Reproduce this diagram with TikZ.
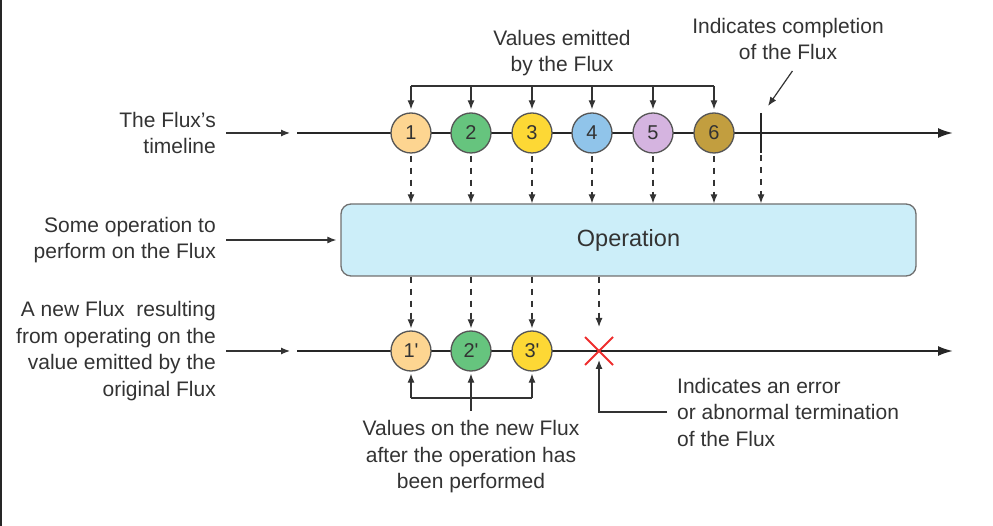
\documentclass[tikz,border=0pt]{standalone}
\usepackage{fontspec}
\setmainfont{Liberation Sans}
\usetikzlibrary{arrows.meta,positioning}

\definecolor{ink}{HTML}{333333}
\definecolor{rim}{HTML}{555555}
\definecolor{opfill}{HTML}{CCEEF9}
\definecolor{oprim}{HTML}{707070}
\definecolor{errred}{HTML}{EE2E2E}
\definecolor{val1}{HTML}{FDD591}
\definecolor{val2}{HTML}{66C47E}
\definecolor{val3}{HTML}{FDD835}
\definecolor{val4}{HTML}{90C4EA}
\definecolor{val5}{HTML}{D5B4E0}
\definecolor{val6}{HTML}{C29E3F}

\tikzstyle {ball} = [circle, draw=rim, line width=1.3pt, minimum size=40pt, inner sep=0pt, text=ink, font=\fontsize{20}{20}\selectfont]
\tikzstyle {note} = [text=ink, inner sep=0pt, font=\fontsize{21}{26.5}\selectfont]
\tikzstyle {timeline} = [draw=black!85, line width=2pt, -{Latex[length=15pt,width=10pt]}]
\tikzstyle {feed} = [draw=black!80, line width=1.2pt, -{Latex[length=9pt,width=7pt]}]
\tikzstyle {dashfeed} = [feed, dash pattern=on 6pt off 6pt]

\begin{document}
\begin{tikzpicture}[x=1pt, y=-1pt]
            \useasboundingbox (0,0) rectangle (993,526);
            \fill [black!85] (0,0) rectangle (2,526);

            % timelines
            \coordinate (t1) at (297,133);
            \coordinate (t1end) at (953,133);
            \coordinate (t2) at (297,351);
            \coordinate (t2end) at (953,351);
            \draw [timeline] (t1) -- (t1end);
            \draw [timeline] (t2) -- (t2end);

            % values emitted by the Flux
            \node [ball, fill=val1] (v1) at (411,133) {1};
            \node [ball, fill=val2] (v2) at (471,133) {2};
            \node [ball, fill=val3] (v3) at (532,133) {3};
            \node [ball, fill=val4] (v4) at (592,133) {4};
            \node [ball, fill=val5] (v5) at (653,133) {5};
            \node [ball, fill=val6] (v6) at (714,133) {6};
            \coordinate (done) at (761,133);
            \draw [black!85, line width=2.2pt] ([yshift=20pt]done) -- ([yshift=-20pt]done);

            \node [draw=oprim, line width=1.3pt, fill=opfill, rounded corners=10pt,
                   minimum width=575pt, minimum height=72pt, text=ink,
                   font=\fontsize{23.5}{23.5}\selectfont] (op) at (628.5,240) {Operation};

            % the new Flux
            \node [ball, fill=val1] (w1) at (411,351) {1\textquotesingle};
            \node [ball, fill=val2] (w2) at (471,351) {2\textquotesingle};
            \node [ball, fill=val3] (w3) at (532,351) {3\textquotesingle};
            \coordinate (err) at (599,351);
            \draw [errred, line width=2pt] ([shift={(-14,-14)}]err) -- ([shift={(14,14)}]err)
                                          ([shift={(-14,14)}]err) -- ([shift={(14,-14)}]err);

            % labels
            \node [note, align=right, anchor=east] (fluxnote) at (216,133) {The Flux’s\\timeline};
            \node [note, align=right, anchor=east] (opnote) at (216,240) {Some operation to\\perform on the Flux};
            \node [note, align=right, anchor=east] (newnote) at (216,351) {A new Flux\ \ resulting\\from operating on the\\value emitted by the\\original Flux};
            \node [note, align=center] (emitnote) at (562,53) {Values emitted\\by the Flux};
            \node [note, align=center] (donenote) at (788,39) {Indicates completion\\of the Flux};
            \node [note, align=center] (resnote) at (471,457) {Values on the new Flux\\after the operation has\\been performed};
            \node [note, align=left, anchor=west] (errnote) at (677,412) {Indicates an error\\or abnormal termination\\of the Flux};

            % connectors
            \draw [feed, shorten >=7pt] ([xshift=10pt]fluxnote.east) -- (t1);
            \draw [feed, shorten >=4pt] ([xshift=10pt]opnote.east) -- (op.west);
            \draw [feed, shorten >=7pt] ([xshift=10pt]newnote.east) -- (t2);

            \coordinate (emitbar) at (562,86);
            \draw [black!80, line width=1.2pt] (emitbar -| v1) -- (emitbar -| v6);
            \draw [feed, shorten >=3pt] (emitbar -| v1) -- (v1.north);
            \draw [feed, shorten >=3pt] (emitbar -| v2) -- (v2.north);
            \draw [feed, shorten >=3pt] (emitbar -| v3) -- (v3.north);
            \draw [feed, shorten >=3pt] (emitbar -| v4) -- (v4.north);
            \draw [feed, shorten >=3pt] (emitbar -| v5) -- (v5.north);
            \draw [feed, shorten >=3pt] (emitbar -| v6) -- (v6.north);
            \draw [feed, shorten <=1pt] ([shift={(5,10)}]donenote.south) -- ([shift={(7,-27)}]done);

            \draw [dashfeed, shorten <=2pt] (v1.south) -- (v1.south |- op.north);
            \draw [dashfeed, shorten <=2pt] (v2.south) -- (v2.south |- op.north);
            \draw [dashfeed, shorten <=2pt] (v3.south) -- (v3.south |- op.north);
            \draw [dashfeed, shorten <=2pt] (v4.south) -- (v4.south |- op.north);
            \draw [dashfeed, shorten <=2pt] (v5.south) -- (v5.south |- op.north);
            \draw [dashfeed, shorten <=2pt] (v6.south) -- (v6.south |- op.north);
            \draw [dashfeed] ([yshift=-22pt]done) -- (done |- op.north);

            \draw [dashfeed, shorten >=2pt] (op.south -| w1) -- (w1.north);
            \draw [dashfeed, shorten >=2pt] (op.south -| w2) -- (w2.north);
            \draw [dashfeed, shorten >=2pt] (op.south -| w3) -- (w3.north);
            \draw [dashfeed] (op.south -| err) -- ([yshift=24pt]err);

            \coordinate (resbar) at (471,398);
            \draw [black!80, line width=1.2pt] (resbar -| w1) -- (resbar -| w3);
            \draw [feed, shorten >=2pt] (resbar -| w1) -- (w1.south);
            \draw [feed, shorten >=2pt] (resbar -| w3) -- (w3.south);
            \draw [feed, shorten <=10pt, shorten >=2pt] (resnote.north) -- (w2.south);
            \draw [feed, shorten >=9pt] ([xshift=-10pt]errnote.west) -| (err);
        \end{tikzpicture}
\end{document}
